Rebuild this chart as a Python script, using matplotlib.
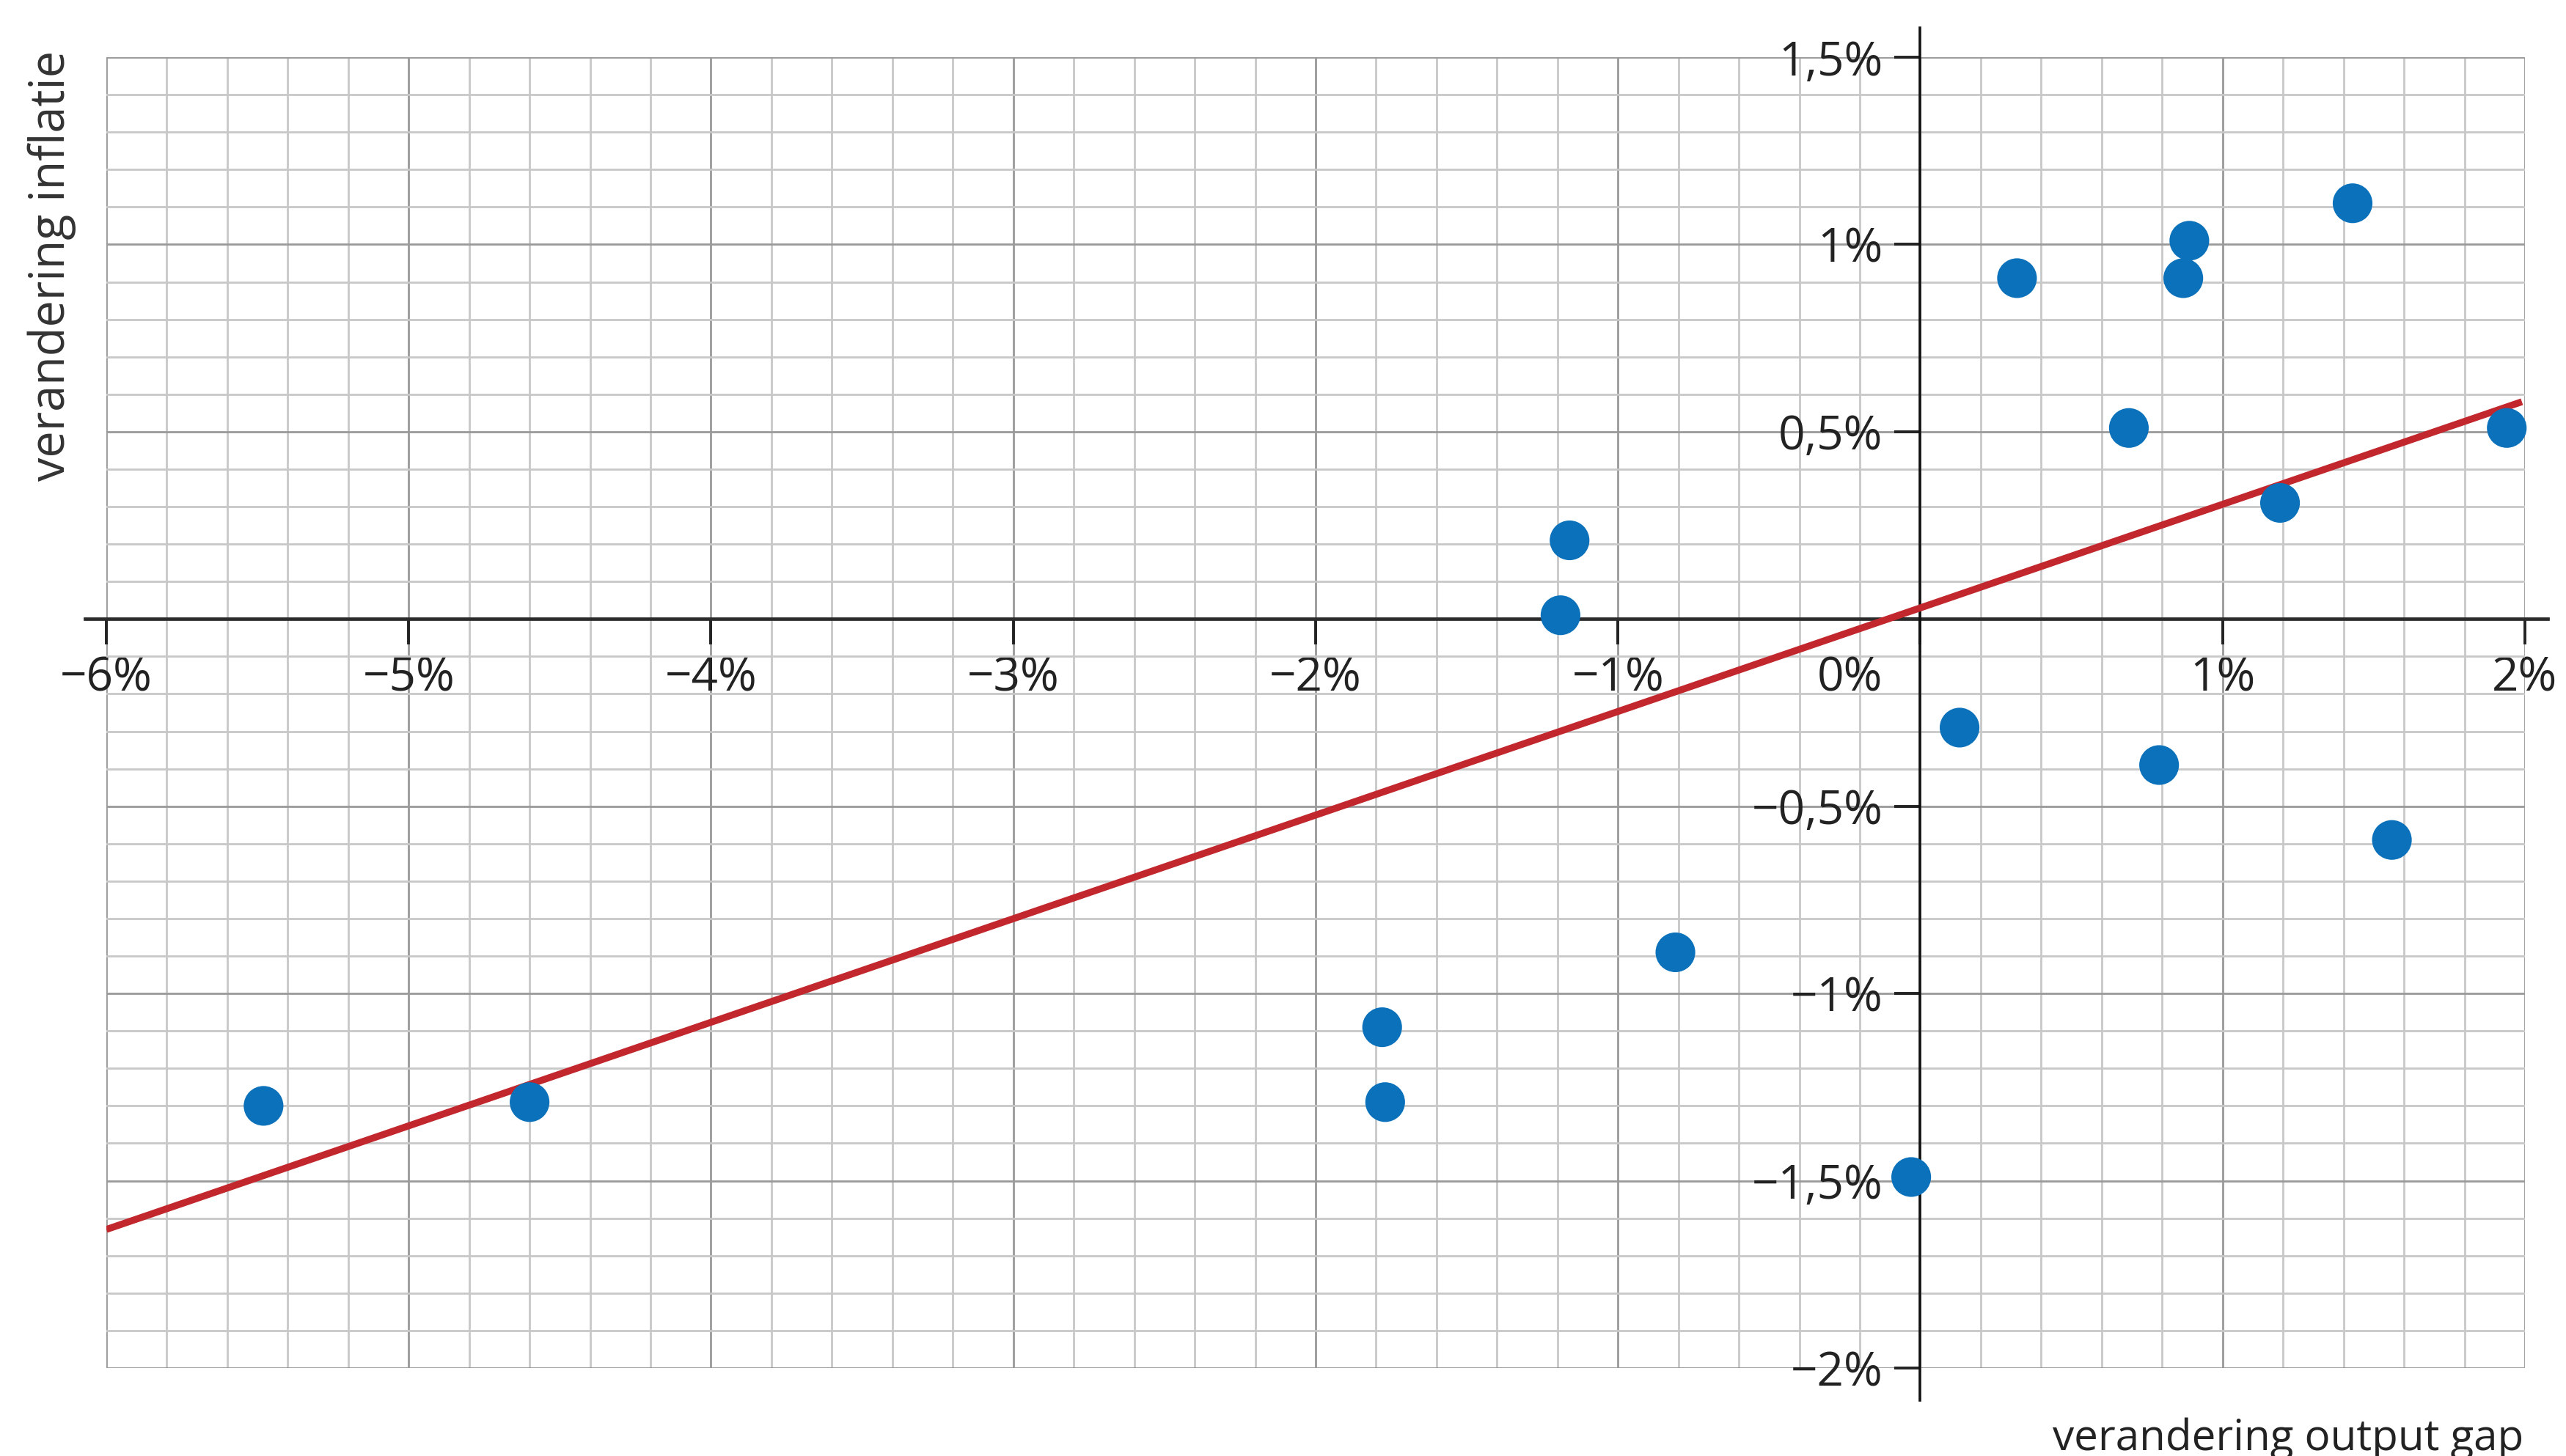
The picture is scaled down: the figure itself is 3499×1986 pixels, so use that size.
#!/usr/bin/env python3
"""
Scatter plot: change in output gap vs. change in inflation, with trend line.
"""

import matplotlib.pyplot as plt
from matplotlib.ticker import MultipleLocator, FixedLocator

# Data (percent points)
gap_change = [-5.48, -4.60, -1.78, -1.77, -1.19, -1.16, -0.81, -0.03, 0.13,
              0.32, 0.69, 0.79, 0.87, 0.89, 1.19, 1.43, 1.56, 1.94]
inflation_change = [-1.30, -1.29, -1.09, -1.29, 0.01, 0.21, -0.89, -1.49, -0.29,
                    0.91, 0.51, -0.39, 0.91, 1.01, 0.31, 1.11, -0.59, 0.51]

# Trend line end points
trend_x = [-6.0, 1.99]
trend_y = [-1.63, 0.58]

x_ticks = [-6, -5, -4, -3, -2, -1, 0, 1, 2]
x_tick_labels = ['\u22126%', '\u22125%', '\u22124%', '\u22123%', '\u22122%',
                 '\u22121%', '', '1%', '2%']
y_ticks = [-2, -1.5, -1, -0.5, 0, 0.5, 1, 1.5]
y_tick_labels = ['\u22122%', '\u22121,5%', '\u22121%', '\u22120,5%', '',
                 '0,5%', '1%', '1,5%']

DOT_COLOR = '#0a71ba'
LINE_COLOR = '#c1272d'
FONT = ['Open Sans', 'DejaVu Sans']
TICK_SIZE = 23


def make_plot():
    fig = plt.figure(figsize=(17.495, 9.93), dpi=200)
    fig.patch.set_facecolor('white')
    ax = fig.add_axes([0.04144, 0.06042, 0.94255, 0.90030])

    ax.set_xlim(-6, 2)
    ax.set_ylim(-2, 1.5)

    # Graph paper grid
    ax.xaxis.set_major_locator(FixedLocator(x_ticks))
    ax.yaxis.set_major_locator(FixedLocator(y_ticks))
    ax.xaxis.set_minor_locator(MultipleLocator(0.2))
    ax.yaxis.set_minor_locator(MultipleLocator(0.1))
    ax.grid(which='minor', color='#c8c8c8', linewidth=1.0)
    ax.grid(which='major', color='#999999', linewidth=1.0)
    ax.set_axisbelow(True)

    # Axes through the origin
    for side in ['top', 'right']:
        ax.spines[side].set_visible(False)
    for side in ['left', 'bottom']:
        ax.spines[side].set_position('zero')
        ax.spines[side].set_visible(False)
    ax.axhline(0, xmin=-0.0088, xmax=1.0094, color='#2b2b2b', linewidth=1.7,
               clip_on=False, zorder=2)
    ax.axvline(0, ymin=-0.0246, ymax=1.0224, color='#111111', linewidth=1.3,
               clip_on=False, zorder=2)

    ax.tick_params(which='minor', length=0)
    ax.tick_params(which='major', direction='out', length=12.6, width=1.4,
                   color='#222222', labelsize=TICK_SIZE, labelcolor='#222222')
    ax.tick_params(axis='x', which='major', pad=5.0)
    ax.tick_params(axis='y', which='major', pad=5.8)
    ax.set_xticklabels(x_tick_labels, family=FONT)
    ax.set_yticklabels(y_tick_labels, family=FONT)

    # 0% sits to the left of the vertical axis
    ax.annotate('0%', xy=(0, 0), xytext=(-18.4, -17.6), textcoords='offset points',
                ha='right', va='top', fontsize=TICK_SIZE, color='#222222',
                family=FONT)

    # Trend line and observations
    ax.plot(trend_x, trend_y, color=LINE_COLOR, linewidth=3.4, zorder=3,
            solid_capstyle='butt')
    ax.scatter(gap_change, inflation_change, s=380, color=DOT_COLOR,
               edgecolors='none', zorder=4, clip_on=False)

    # Axis titles
    fig.text(0.0203, 0.8177, 'verandering inflatie', rotation=90, ha='center',
             va='center', fontsize=23.3, color='#333333', family=FONT)
    fig.text(0.9834, -0.003, 'verandering output gap', ha='right', va='bottom',
             fontsize=21, color='#222222', family=FONT)

    fig.savefig('out.png', dpi=200, facecolor='white')
    plt.close(fig)


if __name__ == '__main__':
    make_plot()
